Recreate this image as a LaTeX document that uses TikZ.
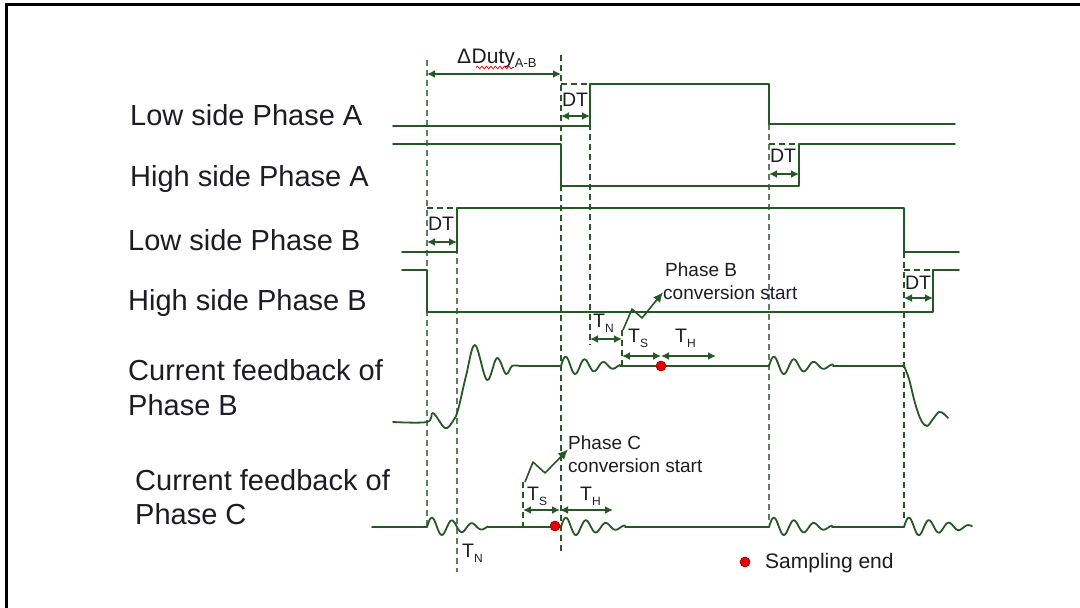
\documentclass[tikz,border=0pt]{standalone}
\usepackage{fontspec}
\setmainfont{Liberation Sans}
\usetikzlibrary{arrows.meta,decorations.pathmorphing}
\definecolor{wg}{RGB}{38,88,38}
\definecolor{wgl}{RGB}{95,125,95}
\definecolor{txt}{RGB}{28,28,38}
\newcommand{\Tsub}[1]{T\raisebox{-5pt}{\fontsize{12}{13}\selectfont #1}}
\newcommand{\ringdraw}[5]{% x0, y0, length, amplitude, period
  \draw[wave] plot[domain=0:#3,samples=90,smooth] ({#1+\x},{#2-#4*(1-\x/(#3+12))*sin(\x/#5*360)});}
\begin{document}
\begin{tikzpicture}[x=1pt,y=-1pt,
  wave/.style={wg,line width=1.8pt,line join=round,line cap=round},
  dline/.style={wg,line width=1.8pt,dash pattern=on 6pt off 4pt},
  dlight/.style={wgl,line width=2.2pt,dash pattern=on 6pt off 4pt},
  dim/.style={wg,line width=1.8pt,{Latex[length=8pt,width=8pt]}-{Latex[length=8pt,width=8pt]}},
  zz/.style={wg,line width=1.6pt,line join=round,-{Latex[length=10pt,width=9pt]}},
  lbl/.style={font=\fontsize{29}{34}\selectfont,text=txt,anchor=base west,inner sep=0pt},
  sm/.style={font=\fontsize{19.5}{22}\selectfont,text=txt,inner sep=0pt},
  smb/.style={sm,anchor=base west},
  dot/.style={circle,fill=red!92!black,draw=red!55!black,line width=0.6pt,inner sep=0pt,minimum size=10pt}
]
\useasboundingbox (0,0) rectangle (1080,608);
\fill[white] (0,0) rectangle (1080,608);
% frame
\draw[black,line width=3pt] (6,608) -- (6,4) -- (1080,4);

% left labels
\node[lbl] (lla) at (130,125) {Low side Phase A};
\node[lbl] (lha) at (130,186) {High side Phase A};
\node[lbl] (llb) at (128,250) {Low side Phase B};
\node[lbl] (lhb) at (128,310) {High side Phase B};
\node[lbl] (lcb1) at (128,380) {Current feedback of};
\node[lbl] (lcb2) at (128,415) {Phase B};
\node[lbl] (lcc1) at (135,490) {Current feedback of};
\node[lbl] (lcc2) at (135,524) {Phase C};

% vertical dashed guides
\draw[dlight] (427,60) -- (427,527);
\draw[dlight] (457,208) -- (457,572);
\draw[dline] (561,55) -- (561,553);
\draw[dline] (590,84) -- (590,345);
\draw[dlight] (769,124) -- (769,522);
\draw[dline] (904,252) -- (904,520);
\draw[dline] (622,330) -- (622,366);
\draw[dline] (523,482) -- (523,527);
% DT box tops
\draw[dline] (561,84) -- (590,84);
\draw[dline] (769,144) -- (799,144);
\draw[dline] (427,208) -- (457,208);
\draw[dline] (904,270) -- (933,270);

% gate signals
\draw[wave] (393,126) -- (590,126) -- (590,84) -- (769,84) -- (769,124) -- (955,124);
\draw[wave] (393,144) -- (561,144) -- (561,186) -- (799,186) -- (799,144) -- (955,144);
\draw[wave] (402,252) -- (457,252) -- (457,208) -- (904,208) -- (904,252) -- (959,252);
\draw[wave] (402,270) -- (427,270) -- (427,312) -- (933,312) -- (933,270) -- (959,270);

% dimension arrows
\draw[dim] (427,74) -- (561,74);
\draw[dim] (561,116) -- (590,116);
\draw[dim] (769,174) -- (799,174);
\draw[dim] (427,242) -- (457,242);
\draw[dim] (904,298) -- (933,298);
\draw[dim] (590,339) -- (622,339);
\draw[dim] (622,356) -- (661,356);
\draw[dim] (661,356) -- (716,356);
\draw[dim] (523,510) -- (560,510);
\draw[dim] (560,510) -- (613,510);

% DT labels
\node[sm] (dt1) at (575,100) {DT};
\node[sm] (dt2) at (783,156) {DT};
\node[sm] (dt3) at (441,224) {DT};
\node[sm] (dt4) at (918,283) {DT};

% Delta duty
\node[anchor=base west,inner sep=0pt,text=txt,font=\fontsize{21}{24}\selectfont] (dd) at (457,63) {Δ\kern0.5pt Duty\raisebox{-4pt}{\fontsize{13}{14}\selectfont A-B}};
\draw[red,line width=0.8pt,decorate,decoration={snake,amplitude=1.3pt,segment length=4.5pt}] (476,67.5) -- (514,67.5);

% current feedback B
\draw[wave] plot[smooth,tension=0.6] coordinates {(393,422) (427,422) (433,413) (445,428) (453,421) (458,410) (466,376) (475,345) (487,380) (497,358) (506,374) (512,366) (520,366)};
\draw[wave] (520,366) -- (561,366);
\ringdraw{561}{366}{59}{10}{19}
\draw[wave] (620,366) -- (769,366);
\ringdraw{769}{366}{64}{10}{20}
\draw[wave] (833,366) -- (904,366);
\draw[wave] plot[smooth,tension=0.6] coordinates {(904,366) (909,379) (915,403) (921,420) (927,426) (933,419) (939,412) (944,414) (948,418)};

% current feedback C
\draw[wave] (372,527) -- (427,527);
\ringdraw{427}{527}{61}{10}{20}
\draw[wave] (488,527) -- (561,527);
\ringdraw{561}{527}{64}{10}{20}
\draw[wave] (625,527) -- (769,527);
\ringdraw{769}{527}{63}{10}{20}
\draw[wave] (832,527) -- (904,527);
\ringdraw{904}{527}{68}{10}{20}

% T labels
\node[smb] (tnb) at (593,327) {\Tsub{N}};
\node[smb] (tsb) at (628,342) {\Tsub{S}};
\node[smb] (thb) at (675,342) {\Tsub{H}};
\node[smb] (tsc) at (527,500) {\Tsub{S}};
\node[smb] (thc) at (580,500) {\Tsub{H}};
\node[smb] (tnc) at (462,557) {\Tsub{N}};

% conversion start annotations
\node[smb,font=\fontsize{19}{22}\selectfont] (pb1) at (665,276) {Phase B};
\node[smb,font=\fontsize{19}{22}\selectfont] (pb2) at (663,299) {conversion start};
\coordinate (zb) at (623,330);
\draw[zz] (zb) -- (632,309) -- (642,318) -- (pb2.west);
\node[smb,font=\fontsize{19}{22}\selectfont] (pc1) at (568,449) {Phase C};
\node[smb,font=\fontsize{19}{22}\selectfont] (pc2) at (568,472) {conversion start};
\coordinate (zc) at (525,482);
\draw[zz] (zc) -- (533,462) -- (545,473) -- (pc1.south west);

% sampling points
\node[dot] (sb) at (661,366) {};
\node[dot] (sc) at (555,526) {};
\node[dot] (leg) at (745,562) {};
\node[anchor=base west,inner sep=0pt,text=txt,font=\fontsize{21}{24}\selectfont] (legt) at (765,568) {Sampling end};
\end{tikzpicture}
\end{document}
